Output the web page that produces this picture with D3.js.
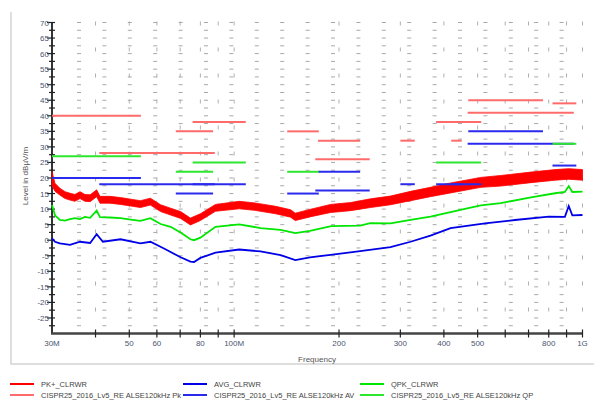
<!DOCTYPE html>
<html>
<head>
<meta charset="utf-8">
<script src="https://cdn.jsdelivr.net/npm/d3@7/dist/d3.min.js"></script>
<style>
body{margin:0;background:#fff}
svg{display:block;font-family:"Liberation Sans",Arial,sans-serif}
</style>
</head>
<body>
<svg id="chart" width="601" height="403"></svg>
<script>
// frequency in MHz, level in dBuV/m
var xTicks = [30,40,50,60,70,80,90,100,200,300,400,500,600,700,800,900,1000]
var xLabels = {30:"30M",50:"50",60:"60",80:"80",100:"100M",200:"200",300:"300",400:"400",500:"500",800:"800",1000:"1G"}
var yLabels = [70,65,60,55,50,45,40,35,30,25,20,15,10,5,0,-5,-10,-15,-20,-25]

// peak trace, drawn as the envelope of the noisy sweep
var pkFreq = [30,30.6,31.6,32.7,33.8,34.9,36.1,37.3,38.6,40.3,41.2,44,47.2,50.5,53.8,57.5,61.5,65.7,70.2,74.9,80,88.4,103.4,114.5,131.5,145.2,149.8,165,189.1,215.8,246.3,281.2,321,366,418,511,582,711,834,913,1000]
var pkMax  = [22,18.3,16.7,15.6,15.1,14.7,15.6,14.7,14.6,16.2,14.1,14.1,13.7,13.2,12.7,13.5,11.4,10.3,9.2,7.1,8.5,11.5,12.5,12,10.9,9.8,8.7,9.9,11.5,12.1,13.3,14.2,15.7,17,18.4,20.2,20.8,21.9,22.7,23,22.7]
var pkMin  = [17.5,15.7,14.5,13.4,12.9,12.5,13.4,12.5,12.4,14,11.9,11.9,11.5,11,10.5,11.3,9.2,8.1,7,4.9,6.3,9.3,10.1,9.6,8.5,7.4,6.3,7.5,8.9,9.5,10.5,11.4,12.7,14,15.2,17,17.4,18.5,19.3,19.6,19.3]

var qpFreq = [30,30.6,31.6,32.7,33.8,34.9,36.1,37.3,38.6,40.3,41.2,44,47.2,50.5,53.8,57.5,61.5,65.7,70.2,74.9,76.7,80,88.4,103.4,119,136,149.8,165,190,230,246,281,321,366,418,470,511,582,711,834,890,913,935,1000]
var qpLevel= [11.3,8,6.5,6.3,6.8,7.1,6.8,7.5,7.2,9.5,7.4,7.3,7.1,6.6,6.2,7.1,5.2,4.3,2.5,0.3,0,0.8,4.3,5.1,3.9,3.3,2.3,3,4.5,4.7,5.5,5.4,6.5,7.6,9,10.3,11.2,11.9,13.8,15.1,15.5,17.4,15.5,15.6]

var avFreq = [30,30.6,31.6,33.8,36.1,38.6,40.3,42,47.2,53.8,57.5,63.5,70.2,74.9,76.7,80,88.4,103.4,119,136,149.8,165,189,230,281,321,366,418,525,640,800,890,913,935,1000]
var avLevel= [0.6,-0.5,-1,-1.5,-0.5,-0.9,1.9,-0.5,0.3,-1,-0.5,-2.9,-5.5,-6.9,-7,-5.7,-4,-3,-3.6,-4.8,-6.4,-5.5,-4.7,-3.5,-2.2,-0.5,1.5,3.9,5.4,6.5,7.6,7.5,11,8,8.1]

// limit lines: [start MHz, stop MHz, level]
var pkLimits = [[30,54,40],[41,88,28],[68,87,35],[76,108,38],[142,175,35],[171,245,26],[174,230,32],[300,330,32],[380,512,38],[420,450,32],[468,944,41],[470,770,45],[820,960,44]]
var avLimits = [[30,54,20],[41,88,18],[68,87,15],[76,108,18],[142,175,15],[171,245,16],[174,230,22],[300,330,18],[380,512,18],[420,450,18],[468,944,31],[470,770,35],[820,960,24]]
var qpLimits = [[30,54,27],[68,87,22],[76,108,25],[142,175,22],[380,512,25],[820,960,31]]

var legendRows = [
  {label:"PK+_CLRWR", color:"#ff0000", col:0, row:0},
  {label:"CISPR25_2016_Lv5_RE ALSE120kHz Pk", color:"#ff6b6b", col:0, row:1},
  {label:"AVG_CLRWR", color:"#0000e6", col:1, row:0},
  {label:"CISPR25_2016_Lv5_RE ALSE120kHz AV", color:"#2a2aee", col:1, row:1},
  {label:"QPK_CLRWR", color:"#00e600", col:2, row:0},
  {label:"CISPR25_2016_Lv5_RE ALSE120kHz QP", color:"#2ee62e", col:2, row:1}
]

var svg = d3.select("#chart")
var x = d3.scaleLog().domain([30,1000]).range([52,582.5])
var y = d3.scaleLinear().domain([-30,70]).range([333.5,22.5])

// outer frame
svg.append("path").attr("d","M11,12V364H594").attr("fill","none").attr("stroke","#d4d4d4").attr("stroke-width",1.5)

// grid
var gridRows = d3.range(-27.5,70.1,2.5)
svg.append("g").selectAll("line").data(gridRows).join("line")
  .attr("x1",77).attr("x2",582).attr("y1",d=>y(d)).attr("y2",d=>y(d))
  .attr("stroke","#a8a8a8").attr("stroke-width",1).attr("stroke-dasharray","4 21.4")
svg.append("g").selectAll("line").data(xTicks.filter(d=>d>30)).join("line")
  .attr("x1",d=>x(d)).attr("x2",d=>x(d)).attr("y1",y(70)-1).attr("y2",y(-30))
  .attr("stroke","#b0b0b0").attr("stroke-width",1).attr("stroke-dasharray","4 22")

// axes
var ax = svg.append("g")
ax.append("line").attr("x1",x(30)).attr("x2",x(30)).attr("y1",y(70)).attr("y2",y(-30)).attr("stroke","#333").attr("stroke-width",2)
ax.append("line").attr("x1",x(30)-1).attr("x2",x(1000)).attr("y1",y(-30)).attr("y2",y(-30)).attr("stroke","#444").attr("stroke-width",2.5)
ax.selectAll(".yt").data(d3.range(-27.5,70.1,2.5)).join("line")
  .attr("x1",d=>x(30)-(d%5==0?5:3)).attr("x2",x(30)+3).attr("y1",d=>y(d)).attr("y2",d=>y(d))
  .attr("stroke","#222").attr("stroke-width",1.2)
ax.selectAll(".xt").data(xTicks.filter(d=>d>30)).join("line")
  .attr("x1",d=>x(d)).attr("x2",d=>x(d)).attr("y1",y(-30)-4).attr("y2",y(-30)+4)
  .attr("stroke","#222").attr("stroke-width",1.2)
ax.selectAll(".yl").data(yLabels).join("text")
  .attr("x",49).attr("y",d=>y(d)+3).attr("text-anchor","end")
  .attr("font-size",8).attr("fill","#4a5570").text(d=>d)
ax.selectAll(".xl").data(Object.keys(xLabels).map(Number)).join("text")
  .attr("x",d=>x(d)).attr("y",346).attr("text-anchor","middle")
  .attr("font-size",8).attr("fill","#4a5570").text(d=>xLabels[d])
ax.append("text").attr("x",317).attr("y",362).attr("text-anchor","middle")
  .attr("font-size",8).attr("fill","#555").text("Frequency")
ax.append("text").attr("transform","translate(28,176) rotate(-90)").attr("text-anchor","middle")
  .attr("font-size",8).attr("fill","#555").text("Level in dBµV/m")

// traces
var pkArea = d3.area().x(d=>x(d.f)).y0(d=>y(d.lo)).y1(d=>y(d.hi))
var pkData = pkFreq.map((f,i)=>({f:f,hi:pkMax[i],lo:pkMin[i]}))
svg.append("path").datum(pkData).attr("d",pkArea).attr("fill","#ff0000").attr("stroke","#ff0000").attr("stroke-width",0.8)

var lineGen = d3.line().x(d=>x(d[0])).y(d=>y(d[1]))
function limits(data,color){
  svg.append("g").selectAll("line").data(data).join("line")
    .attr("x1",d=>x(d[0])).attr("x2",d=>x(d[1])).attr("y1",d=>y(d[2])).attr("y2",d=>y(d[2]))
    .attr("stroke",color).attr("stroke-width",2)
}
limits(pkLimits,"#ff6b6b")
svg.append("path").datum(avFreq.map((f,i)=>[f,avLevel[i]])).attr("d",lineGen)
  .attr("fill","none").attr("stroke","#0000e6").attr("stroke-width",1.8)
limits(avLimits,"#2a2aee")
svg.append("path").datum(qpFreq.map((f,i)=>[f,qpLevel[i]])).attr("d",lineGen)
  .attr("fill","none").attr("stroke","#00e600").attr("stroke-width",1.8)
limits(qpLimits,"#2ee62e")

// legend
var colX = [10,183,360]
var lg = svg.append("g").selectAll("g").data(legendRows).join("g")
  .attr("transform",d=>"translate("+colX[d.col]+","+(384+d.row*11)+")")
lg.append("line").attr("x1",0).attr("x2",24).attr("stroke",d=>d.color).attr("stroke-width",2)
lg.append("text").attr("x",31).attr("y",3).attr("font-size",7.5).attr("fill","#444").text(d=>d.label)
</script>
</body>
</html>
